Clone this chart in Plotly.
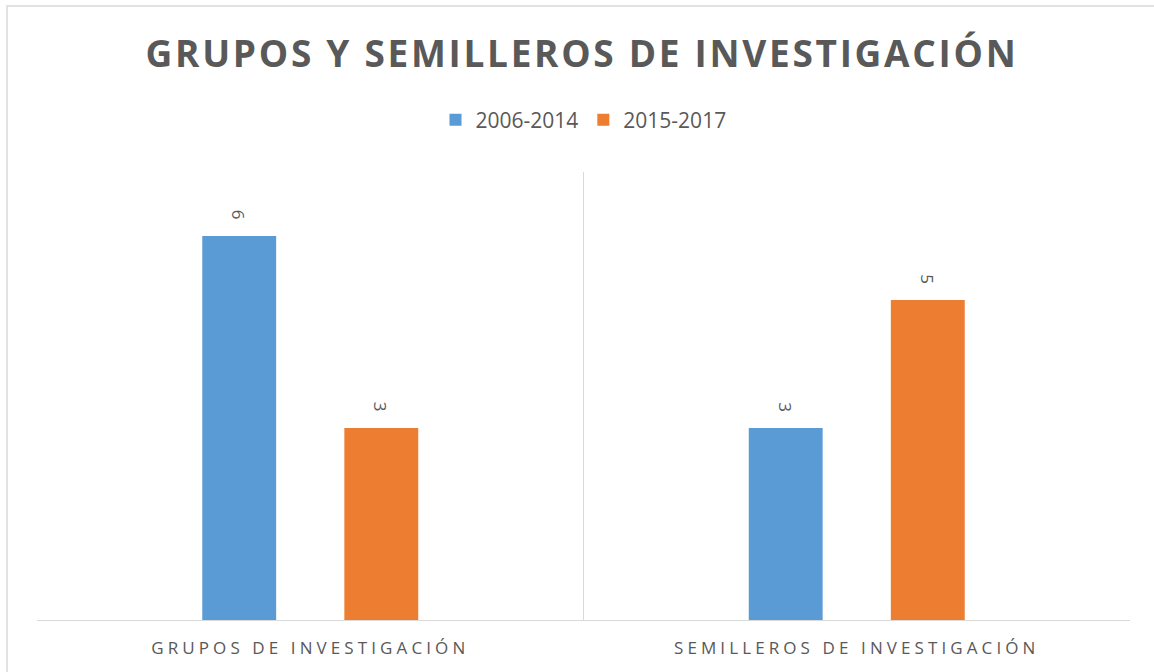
import plotly.graph_objects as go

# data
categorias = ["GRUPOS DE INVESTIGACIÓN", "SEMILLEROS DE INVESTIGACIÓN"]
periodo_1 = [6, 3]   # 2006-2014
periodo_2 = [3, 5]   # 2015-2017
series = ["2006-2014", "2015-2017"]

azul = "#5B9BD5"
naranja = "#ED7D31"
gris = "#595959"
linea = "#D9D9D9"

fig = go.Figure()
for nombre, valores, color in [(series[0], periodo_1, azul), (series[1], periodo_2, naranja)]:
    fig.add_trace(
        go.Bar(
            x=categorias,
            y=valores,
            name=nombre,
            marker=dict(color=color, line=dict(width=0)),
            cliponaxis=False,
        )
    )

# value labels, rotated like the original, a bit above each bar
for valores, dx in [(periodo_1, -71), (periodo_2, 71)]:
    for cat, v in zip(categorias, valores):
        fig.add_annotation(
            x=cat,
            y=v,
            text=str(v),
            showarrow=False,
            textangle=90,
            xshift=dx,
            yshift=21,
            yanchor="middle",
            font=dict(family="Open Sans", size=17, color=gris),
        )

fig.update_layout(
    width=1154,
    height=672,
    margin=dict(l=37, r=24, t=172, b=52),
    paper_bgcolor="white",
    plot_bgcolor="white",
    barmode="group",
    bargap=0.48,
    bargroupgap=0.48,
    title=dict(
        text="<b>GRUPOS Y SEMILLEROS DE INVESTIGACIÓN</b>",
        x=0.5 + 5 / 1154,
        xanchor="center",
        y=1 - 54 / 672,
        yanchor="middle",
        font=dict(family="Open Sans", size=37, color=gris),
    ),
    legend=dict(
        orientation="h",
        x=0.5,
        xanchor="center",
        y=1 + 52 / 448,
        yanchor="middle",
        font=dict(family="Open Sans", size=21, color=gris),
        itemwidth=30,
        traceorder="normal",
    ),
    showlegend=True,
    xaxis=dict(
        tickson="boundaries",
        showgrid=True,
        gridcolor=linea,
        gridwidth=1,
        showline=True,
        linecolor=linea,
        linewidth=1,
        ticks="",
        ticklabelstandoff=13,
        tickfont=dict(family="Open Sans", size=17, color=gris),
        range=[-0.5, 1.5],
    ),
    yaxis=dict(
        range=[0, 7],
        showgrid=False,
        zeroline=False,
        showticklabels=False,
    ),
)

# outer chart border
fig.add_shape(
    type="rect",
    xref="paper",
    yref="paper",
    x0=(7 - 37) / 1093,
    x1=1.05,
    y0=-0.2,
    y1=1 + 166 / 448,
    line=dict(color=linea, width=1.5),
    layer="below",
)

# letter spacing like the original (Excel style), no page margin
post = """
document.body.style.margin = '0';
var s = document.createElement('style');
s.innerHTML = '.gtitle {letter-spacing: 2.7px;} .xtick text {letter-spacing: 4.1px;}';
document.head.appendChild(s);
"""

fig.write_html("out.html", post_script=post, config={"displayModeBar": False})
